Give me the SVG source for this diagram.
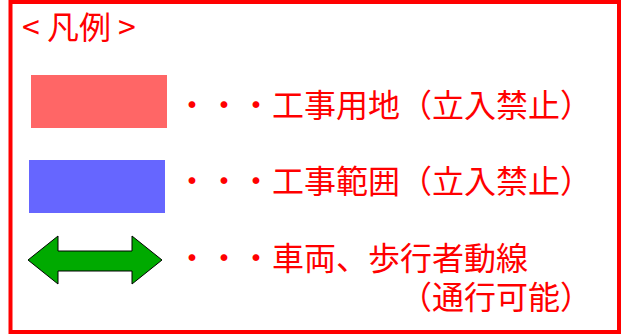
<svg xmlns="http://www.w3.org/2000/svg" width="621" height="335" viewBox="0 0 621 335">
<style>
.t{font-family:"Noto Sans CJK JP","Noto Sans CJK SC",sans-serif;font-size:32px;fill:#FF0000;}
</style>
<rect x="0" y="0" width="621" height="335" fill="#FFFFFF"/>
<g id="frame">
<rect x="10.5" y="2" width="608.5" height="330" fill="#FFFFFF" stroke="#FF0000" stroke-width="4"/>
</g>
<g id="title">
<text class="t" x="22" y="39">&lt; 凡例 &gt;</text>
</g>
<g id="legend-site">
<rect x="31" y="75" width="136" height="53" fill="#FF6666"/>
<text class="t" x="176" y="117">・・・工事用地（立入禁止）</text>
</g>
<g id="legend-range">
<rect x="29" y="160" width="136" height="53" fill="#6666FF"/>
<text class="t" x="176" y="193">・・・工事範囲（立入禁止）</text>
</g>
<g id="legend-route">
<polygon points="28,260 58,236 58,251 132,251 132,236 162,260 132,284 132,271 58,271 58,284" fill="#00AA00" stroke="#000000" stroke-width="1"/>
<text class="t" x="176" y="270">・・・車両、歩行者動線</text>
<text class="t" x="400" y="309">（通行可能）</text>
</g>
</svg>
